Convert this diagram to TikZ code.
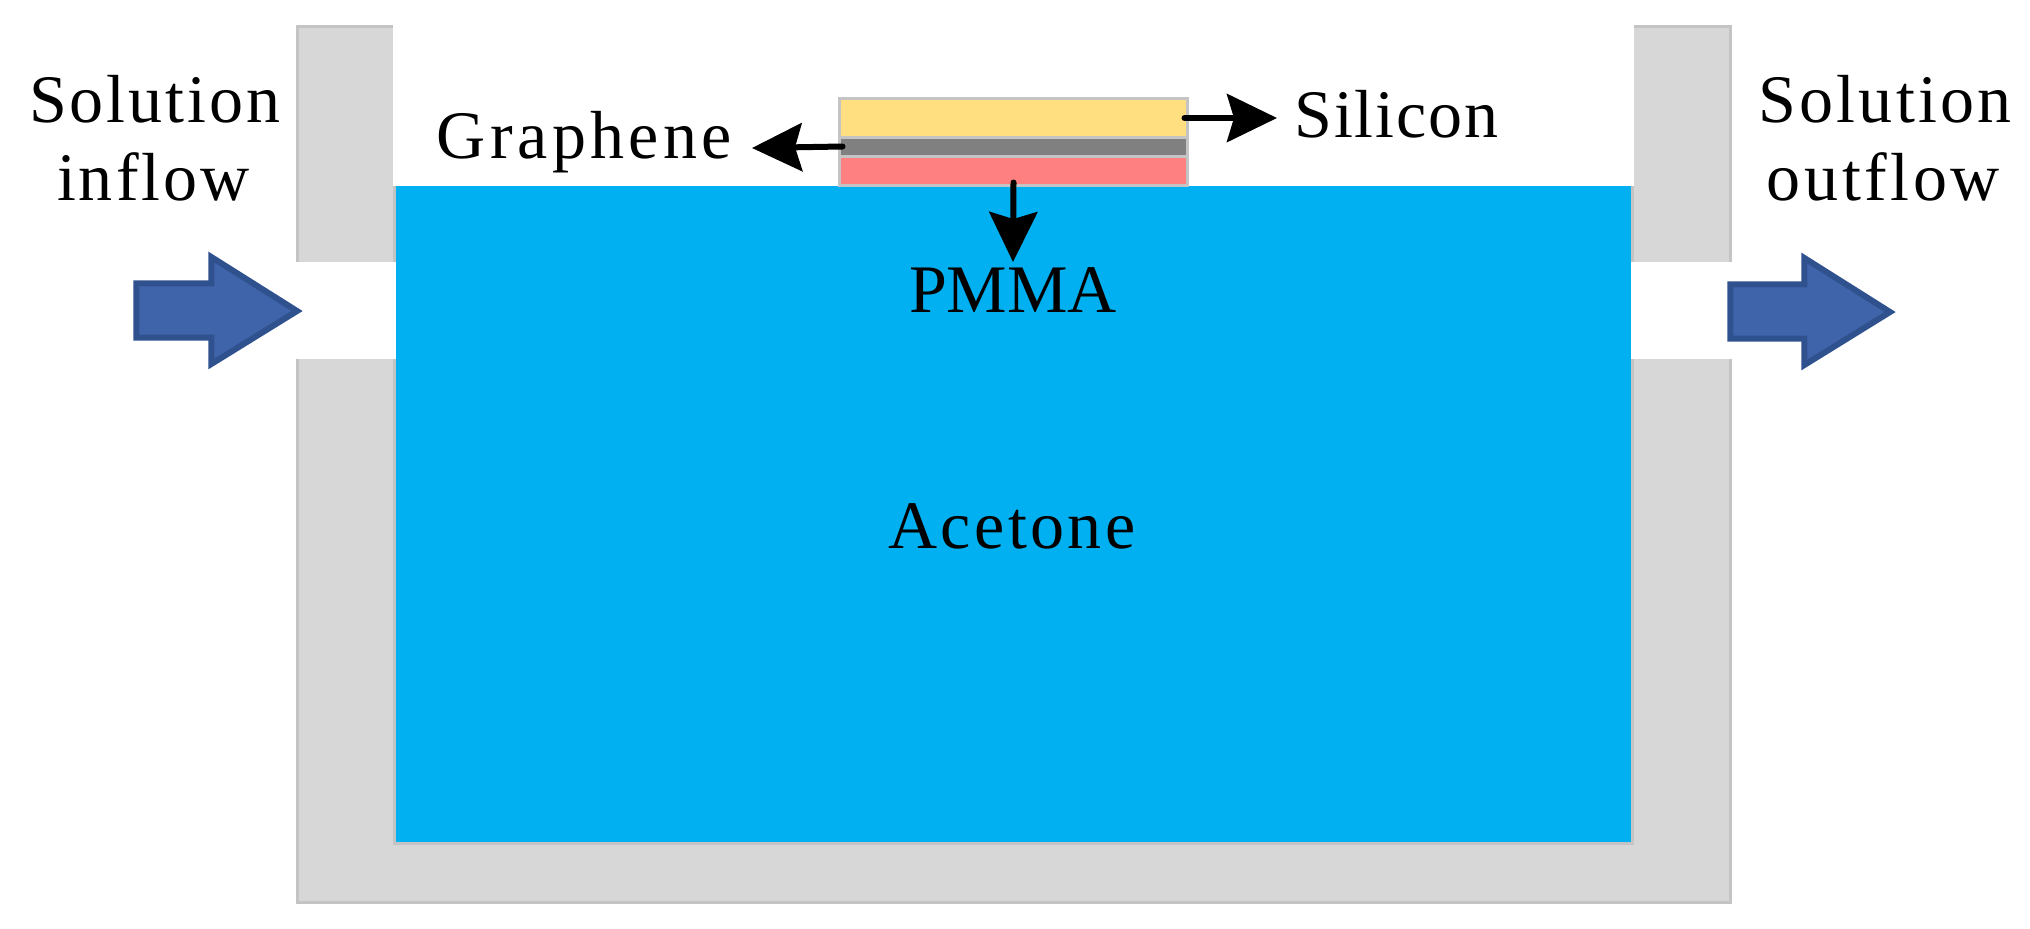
\documentclass[tikz,border=0pt]{standalone}
\usepackage{fontspec}
\setmainfont{Liberation Serif}
\usetikzlibrary{arrows.meta}
\definecolor{wallfill}{HTML}{D7D7D7}
\definecolor{wallline}{HTML}{C4C4C4}
\definecolor{bath}{HTML}{00B0F0}
\definecolor{siliconc}{HTML}{FFDF80}
\definecolor{graphenec}{HTML}{808080}
\definecolor{pmmac}{HTML}{FF8080}
\definecolor{flowfill}{HTML}{3F64AA}
\definecolor{flowline}{HTML}{2F528F}
\newcommand{\spaced}[2]{\addfontfeature{LetterSpace=#1}#2}
\tikzset{
  wall/.style={draw=wallline,line width=1.5pt,fill=wallfill},
  layer/.style={draw=wallline,line width=1.5pt,inner sep=0pt,outer sep=0pt,minimum width=174pt},
  callout/.style={line width=3pt,line cap=round,-{Stealth[length=25pt,width=24pt,inset=3.5pt]}},
  flow/.style={draw=flowline,fill=flowfill,line width=3pt,miter limit=10},
  lab/.style={anchor=base,inner sep=0pt,font=\fontsize{34}{34}\selectfont},
}
\begin{document}
\begin{tikzpicture}[x=0.5pt,y=-0.5pt]
\useasboundingbox (0,0) rectangle (2030,928);
% vessel
\path[wall] (297.5,26.5) rectangle (1730.5,902.5);
\path[draw=wallline,line width=1.5pt,fill=bath] (394.5,100) rectangle (1632.5,843.5);
\fill[white] (393,0) rectangle (1634,186);
\fill[white] (290,262) rectangle (396,359);
\fill[white] (1631,262) rectangle (1740,359);
\fill[bath] (396,186) rectangle (1631,842);
% sample layers
\node[layer,fill=siliconc,minimum height=19.5pt] (si) at (1013.5,118) {};
\node[layer,fill=graphenec,minimum height=9.5pt] (gr) at (1013.5,147) {};
\node[layer,fill=pmmac,minimum height=14.5pt] (pm) at (1013.5,171) {};
% flow arrows
\path[flow] (136.3,283.3) -- (211.3,283.3) -- (211.3,257) -- (297,311) -- (211.3,364) -- (211.3,337.5) -- (136.3,337.5) -- cycle;
\path[flow] (1730.3,284.3) -- (1804.3,284.3) -- (1804.3,258) -- (1890,312) -- (1804.3,365) -- (1804.3,338.5) -- (1730.3,338.5) -- cycle;
% labels
\node[lab] (inA) at (155,122) {\spaced{4.5}{Solution}};
\node[lab] (inB) at (153.5,200) {\spaced{4.5}{inflow}};
\node[lab] (outA) at (1885,122) {\spaced{4.7}{Solution}};
\node[lab] (outB) at (1883.5,200) {\spaced{5.3}{outflow}};
\node[lab] (grl) at (584.5,158) {\spaced{6.5}{Graphene}};
\node[lab] (sil) at (1396.5,137) {\spaced{2.8}{Silicon}};
\node[lab] (pml) at (1013,312) {PMMA};
\node[lab] (acl) at (1012,548) {\spaced{5}{Acetone}};
% callouts
\coordinate (siE) at (1277,118);
\coordinate (grE) at (752,148);
\coordinate (pmE) at (1013,262);
\draw[callout] (si.east) ++(-3,0) -- (siE);
\draw[callout] (gr.west) ++(3,-0.5) -- (grE);
\draw[callout] (pm.south) ++(0,-3) -- (pmE);
\end{tikzpicture}
\end{document}
